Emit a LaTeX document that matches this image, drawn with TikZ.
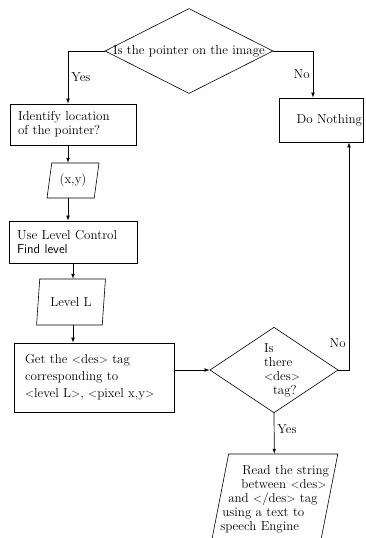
\documentclass[tikz,border=0pt]{standalone}
\usetikzlibrary{arrows,shapes.geometric}
\tikzstyle{process}=[
	rectangle,
	draw,
	line width=0.8pt,
	align=left
]
\tikzstyle{decision}=[
	diamond,
	draw,
	line width=0.6pt,
	inner sep=0pt
]
\tikzstyle{io}=[
	trapezium,
	draw,
	line width=0.6pt,
	trapezium left angle=77,
	trapezium right angle=103,
	trapezium stretches=true,
	inner sep=0pt
]
\tikzstyle{flow}=[
	->,
	>=latex,
	line width=0.7pt
]
\tikzstyle{answer}=[
	inner sep=3pt
]

\begin{document}
\begin{tikzpicture}[x=1pt,y=-1pt,font=\fontsize{13}{14}\selectfont]
\useasboundingbox (0,0) rectangle (365,538);
\node [decision, aspect=2, minimum width=168pt, minimum height=85pt, inner xsep=-6pt] (pointer) at (189,51) {Is the pointer on the image};
\node [process, minimum width=126pt, minimum height=41pt, text width=110pt, inner xsep=8pt] (locate) at (73,124.5) {Identify location\\of the pointer?};
\node [process, minimum width=84pt, minimum height=44pt, text width=82pt, inner xsep=1pt, align=right] (nothing) at (321,120) {Do Nothing};
\node [io, minimum width=52pt, minimum height=35pt] (xy) at (73,180.5) {(x,y)};
\node [process, minimum width=128pt, minimum height=42pt, text width=112pt, inner xsep=8pt] (control) at (73,242) {Use Level Control\\{\sffamily Find level}};
\node [io, minimum width=69pt, minimum height=46pt] (levelL) at (71,302) {Level L};
\node [process, minimum width=160pt, minimum height=69pt, text width=150pt, inner xsep=5pt] (gettag) at (94,377.5) {\hspace*{6pt}Get the $<$des$>$ tag\\[3pt]\hspace*{6pt}corresponding to\\[3pt]\hspace*{6pt}$<$level L$>$, $<$pixel x,y$>$};
\node [decision, aspect=1.5, minimum width=128pt, minimum height=84pt, text width=66pt, inner xsep=-9pt, align=left] (istag) at (274,370) {\hspace*{23pt}Is\\\hspace*{23pt}there\\\hspace*{23pt}$<$des$>$\\\hspace*{32pt}tag?};
\node [io, minimum width=127pt, minimum height=91pt, text width=124pt, inner xsep=-22pt, align=left] (speech) at (274.3,499.5) {\hspace*{30pt}Read the string\\\hspace*{29pt}between $<$des$>$\\\hspace*{16pt}and $<$/des$>$ tag\\\hspace*{10pt}using a text to\\\hspace*{8pt}speech Engine};
% connectors
\draw [flow] (pointer.west) -| ([xshift=-5pt]locate.north) node [answer, pos=0.75, right] (yesA) {Yes};
\draw [flow] (pointer.east) -| ([xshift=-8pt]nothing.north) node [answer, pos=0.75, left] (noA) {No};
\draw [flow] ([xshift=-5pt]locate.south) -- ([xshift=-5pt]locate.south |- xy.north);
\draw [flow] ([xshift=-5pt]xy.south) -- ([xshift=-5pt]xy.south |- control.north);
\draw [flow] (control.south) -- (control.south |- levelL.north);
\draw [flow] (control.south |- levelL.south) -- (control.south |- gettag.north);
\draw [flow] (gettag.east |- istag.west) -- (istag.west);
\draw [flow] (istag.east) -| ([xshift=28pt]nothing.south) node [answer, pos=0.56, left] (noB) {No};
\draw [flow] (istag.south) -- (speech.north) node [answer, pos=0.4, right] (yesB) {Yes};
\end{tikzpicture}
\end{document}
